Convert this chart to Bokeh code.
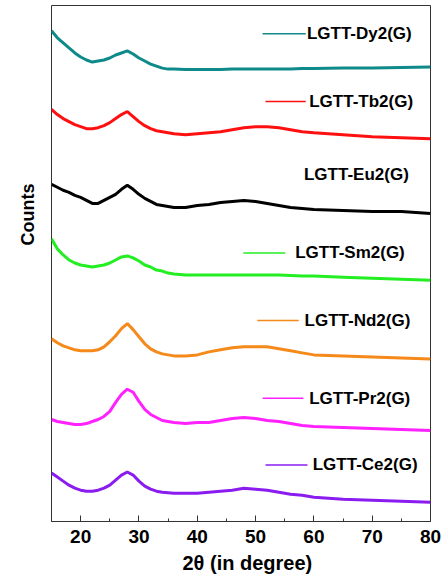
from bokeh.plotting import figure
from bokeh.models import Range1d, SingleIntervalTicker, Label, Title
from bokeh.embed import file_html
from bokeh.resources import INLINE

# 2-theta grid (degrees)
two_theta = [15, 16, 17, 18, 19, 20, 21, 22, 23, 24, 25, 26, 27, 28, 29, 30, 31, 32, 33, 34, 35, 36,
             38, 40, 42, 44, 46, 48, 50, 52, 54, 56, 58, 60, 65, 70, 75, 80]

# stacked counts (offset, arbitrary units)
dy2 = [486, 479, 474, 469, 464, 460, 457, 455, 456, 457, 459, 462, 464, 466, 463, 459, 456, 453, 451, 449, 448, 448,
       447.5, 447.5, 447.5, 447.5, 448, 448, 448, 448, 448, 448, 448.5, 448.5, 449, 449, 449.5, 450]
tb2 = [408, 403, 399, 396, 393, 391, 389, 389, 390, 392, 395, 399, 403, 406, 401, 396, 392, 389, 387, 386, 385, 384,
       383, 384, 385, 386, 388, 390, 391, 391, 390, 388, 386, 385, 383, 381, 380, 379]
eu2 = [334, 331, 328, 326, 323, 321, 318, 315, 315, 318, 321, 324, 329, 333, 329, 324, 320, 317, 314, 313, 312, 311,
       311, 313, 314, 316, 317, 318, 317, 315, 313, 311, 310, 309, 308, 307, 307, 305]
sm2 = [280, 270, 264, 259, 256, 254, 253, 252, 253, 254, 256, 259, 262, 263, 261, 258, 254, 252, 249, 248, 246, 245,
       244, 244, 244, 244, 244, 244, 244, 244, 244, 243.5, 243, 243, 242, 241, 240, 239]
nd2 = [181, 177, 174, 172, 170, 169, 169, 169, 170, 173, 178, 184, 191, 196, 190, 183, 176, 171, 168, 166, 165, 164,
       164, 165, 168, 170, 172, 173, 173, 173, 171, 169, 167, 165, 164, 163, 162, 161]
pr2 = [101, 99, 98, 97, 96, 96, 97, 99, 101, 104, 109, 118, 126, 131, 128, 119, 111, 106, 103, 100, 99, 98,
       97, 98, 98, 100, 102, 103, 102, 100, 99, 97, 95, 94, 93, 92, 91, 90]
ce2 = [48, 44, 40, 36, 33, 31, 30, 30, 31, 33, 36, 41, 46, 49, 46, 40, 35, 32, 30, 29, 28.5, 28,
       28, 28, 29, 30, 31, 33, 32, 31, 29, 27, 26, 24, 22, 21, 20, 19]

series_names = ["LGTT-Dy2(G)", "LGTT-Tb2(G)", "LGTT-Eu2(G)", "LGTT-Sm2(G)",
                "LGTT-Nd2(G)", "LGTT-Pr2(G)", "LGTT-Ce2(G)"]
series_values = [dy2, tb2, eu2, sm2, nd2, pr2, ce2]
series_colors = ["#0e8a8a", "#ff1010", "#000000", "#22ee22", "#f5891a", "#ff22ff", "#8a1cf0"]

# legend layout (data coords): line start, line end, y, text x ; None = no line
legend_layout = [
    (51.2, 58.6, 483, 58.8),
    (51.7, 58.6, 416, 59.2),
    (None, None, 344, 58.3),
    (47.9, 55.1, 266, 56.8),
    (50.3, 57.4, 199, 58.4),
    (51.2, 58.2, 122, 59.2),
    (51.7, 58.9, 56, 59.8),
]

FONT = "Liberation Sans"

p = figure(width=442, height=577, min_border_left=51, min_border_right=12,
           min_border_top=5, min_border_bottom=0,
           x_range=Range1d(15, 80), y_range=Range1d(0, 511),
           y_axis_location=None, output_backend="svg", toolbar_location=None)
p.background_fill_color = "white"
p.border_fill_color = "white"
p.xgrid.visible = False
p.ygrid.visible = False
p.outline_line_color = "#333333"
p.outline_line_width = 1

ax = p.xaxis[0]
ax.ticker = SingleIntervalTicker(interval=10, num_minor_ticks=2)
ax.major_tick_in = 6
ax.major_tick_out = 0
ax.minor_tick_in = 3
ax.minor_tick_out = 0
ax.axis_line_color = "#333333"
ax.major_tick_line_color = "#333333"
ax.minor_tick_line_color = "#333333"
ax.major_label_text_font = FONT
ax.major_label_text_font_style = "bold"
ax.major_label_text_font_size = "19px"
ax.major_label_text_color = "black"
ax.major_label_standoff = 8

for vals, col in zip(series_values, series_colors):
    p.line(two_theta, vals, line_color=col, line_width=3)

for name, col, (x0, x1, y, tx) in zip(series_names, series_colors, legend_layout):
    if x0 is not None:
        p.segment(x0=[x0], y0=[y], x1=[x1], y1=[y], line_color=col, line_width=1.5)
    p.add_layout(Label(x=tx, y=y, text=name, text_font=FONT, text_font_style="bold",
                       text_font_size="17px", text_baseline="middle", text_align="left",
                       text_color="black"))

xt = Title(text="2\u03b8 (in degree)", align="left", offset=131, standoff=8,
           text_font=FONT, text_font_style="bold", text_font_size="20px", text_color="black")
p.add_layout(xt, "below")
yt = Title(text="Counts", align="right", offset=178, standoff=28,
           text_font=FONT, text_font_style="bold", text_font_size="18px", text_color="black")
p.add_layout(yt, "left")

open("out.html", "w").write(file_html(p, INLINE))
